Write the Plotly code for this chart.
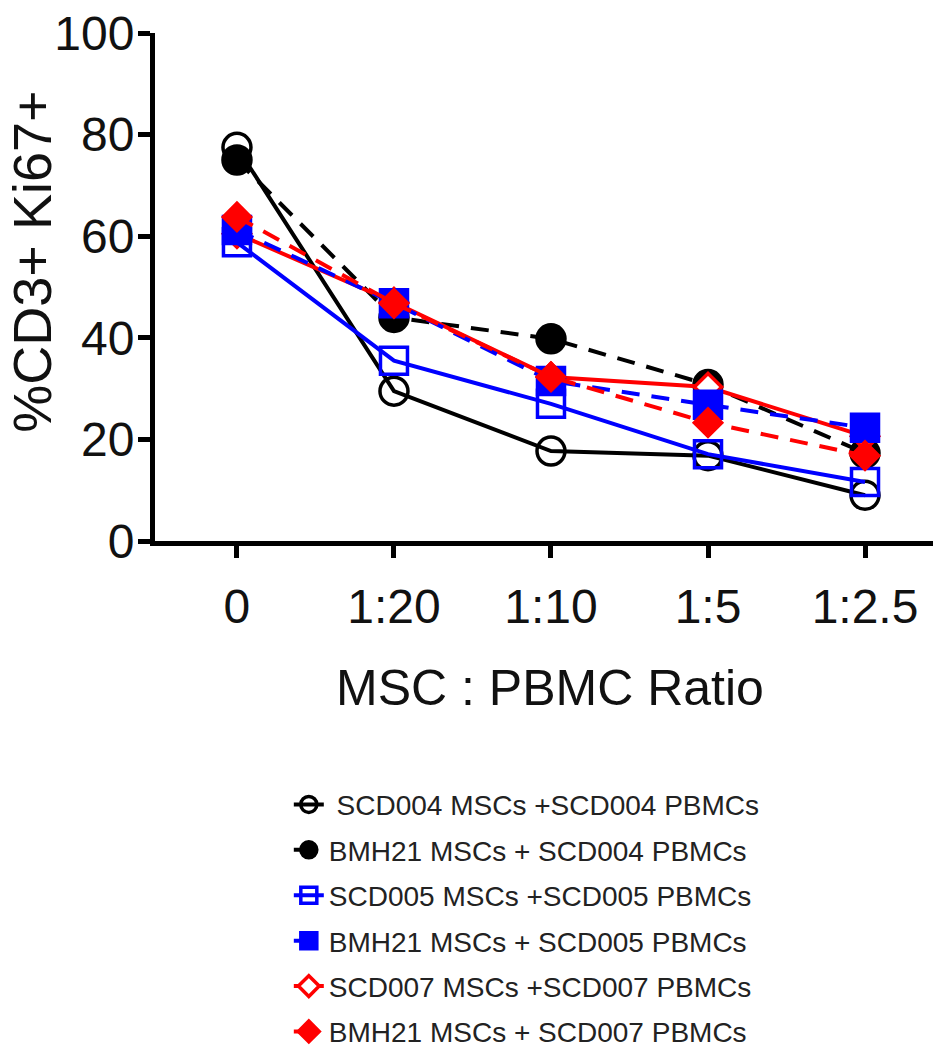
import plotly.graph_objects as go

# MSC : PBMC co-culture ratios (x categories)
ratios = ["0", "1:20", "1:10", "1:5", "1:2.5"]

# %CD3+ Ki67+ for each co-culture
scd004_auto = [77.5, 29.5, 17.7, 16.8, 9.0]
bmh21_scd004 = [75.0, 44.0, 39.8, 30.8, 17.3]
scd005_auto = [58.8, 35.5, 27.0, 17.1, 11.6]
bmh21_scd005 = [61.2, 46.8, 31.5, 26.8, 22.3]
scd007_auto = [60.5, 47.0, 32.3, 30.3, 20.6]
bmh21_scd007 = [63.8, 46.8, 32.3, 23.3, 16.8]

series_names = [
    "\u00a0SCD004 MSCs +SCD004 PBMCs",
    "BMH21 MSCs + SCD004 PBMCs",
    "SCD005 MSCs +SCD005 PBMCs",
    "BMH21 MSCs + SCD005 PBMCs",
    "SCD007 MSCs +SCD007 PBMCs",
    "BMH21 MSCs + SCD007 PBMCs",
]
series_values = [scd004_auto, bmh21_scd004, scd005_auto,
                 bmh21_scd005, scd007_auto, bmh21_scd007]

# Styling per series: colour, marker symbol, marker size, marker fill, line dash
styles = [
    ("#000000", "circle-open", 28, None, "solid"),
    ("#000000", "circle", 28, None, "dash"),
    ("#0000ff", "square-open", 27, None, "solid"),
    ("#0000ff", "square", 27, None, "dash"),
    ("#ff0000", "diamond", 21, "white", "solid"),
    ("#ff0000", "diamond", 21, None, "dash"),
]

# Stacking order of the series in the plot (legend keeps its own order)
draw_order = [0, 1, 4, 2, 3, 5]

FONT = "Liberation Sans, Arial, sans-serif"

fig = go.Figure()
for i in draw_order:
    name, vals = series_names[i], series_values[i]
    color, symbol, size, fill, dash = styles[i]
    fig.add_trace(go.Scatter(
        x=ratios,
        y=vals,
        name=name,
        legendgroup=f"g{i}",
        legendrank=i + 1,
        mode="lines+markers",
        line=dict(color=color, width=4,
                  dash="18px,12px" if dash == "dash" else "solid"),
        marker=dict(symbol=symbol, size=size,
                    color=fill if fill else color,
                    line=dict(color=color, width=3.5)),
        cliponaxis=False,
    ))

fig.update_layout(
    width=933,
    height=1057,
    margin=dict(l=155, r=0, t=33, b=509),
    plot_bgcolor="white",
    paper_bgcolor="white",
    showlegend=True,
    legend=dict(
        x=0.172, y=-0.47, xanchor="left", yanchor="top",
        font=dict(family=FONT, size=28, color="#222222"),
        tracegroupgap=6,
        bgcolor="rgba(0,0,0,0)",
    ),
    xaxis=dict(
        type="category",
        categoryorder="array",
        categoryarray=ratios,
        range=[-0.522, 4.433],
        showline=True, linewidth=5, linecolor="black",
        ticks="outside", ticklen=12, tickwidth=5, tickcolor="black",
        tickfont=dict(family=FONT, size=48, color="#111111"),
        ticklabelstandoff=7,
        showgrid=False, zeroline=False,
    ),
    yaxis=dict(
        range=[0, 100],
        tickvals=[0, 20, 40, 60, 80, 100],
        showline=True, linewidth=5, linecolor="black",
        ticks="outside", ticklen=12, tickwidth=5, tickcolor="black",
        tickfont=dict(family=FONT, size=48, color="#111111"),
        ticklabelstandoff=-6,
        showgrid=False, zeroline=False,
    ),
    annotations=[
        dict(text="%CD3+ Ki67+", xref="paper", yref="paper",
             x=-0.158, y=0.55, textangle=-90, showarrow=False,
             xanchor="center", yanchor="middle",
             font=dict(family=FONT, size=54, color="#111111")),
        dict(text="MSC : PBMC Ratio", xref="paper", yref="paper",
             x=0.508, y=-0.29, showarrow=False,
             xanchor="center", yanchor="middle",
             font=dict(family=FONT, size=50, color="#111111")),
    ],
)

fig.write_html("out.html")
